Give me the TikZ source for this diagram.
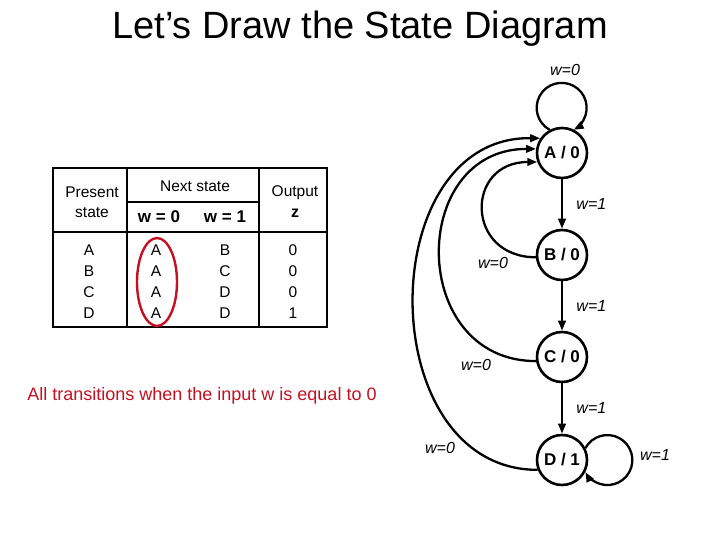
\documentclass[tikz,border=0pt]{standalone}
\usepackage{fontspec}
\setmainfont{Liberation Sans}
\usetikzlibrary{arrows.meta}
\definecolor{markred}{HTML}{C41020}

\begin{document}
\begin{tikzpicture}[x=1pt,y=1pt,>={Triangle[length=10pt,width=7.5pt]},
  stnode/.style={circle,draw,line width=2.6pt,minimum size=50pt,inner sep=0pt,
    font=\fontsize{17}{20}\selectfont\bfseries},
  lbl/.style={font=\fontsize{16}{19}\selectfont\itshape},
  cell/.style={font=\fontsize{15.5}{20}\selectfont,align=center},
  trans/.style={->,line width=2.3pt}]
  \useasboundingbox (0,0) rectangle (720,540);
  \node[font=\fontsize{38}{43}\selectfont] (title) at (360,511) {Let's Draw the State Diagram};

  % table
  \draw[line width=1.6pt] (53,372) -- (327,372);
  \draw[line width=2.8pt] (53,373) -- (53,213) -- (327,213) -- (327,373);
  \draw[line width=2.8pt] (53,308) -- (327,308);
  \draw[line width=1.2pt] (127,372) -- (127,213) (259,372) -- (259,213) (127,338) -- (259,338);
  \node[cell] (hpres) at (92,338) {Present\\state};
  \node[cell] (hnext) at (195,354) {Next state};
  \node[cell,font=\fontsize{17}{20}\selectfont\bfseries] (hw0) at (159,323) {w = 0};
  \node[cell,font=\fontsize{17}{20}\selectfont\bfseries] (hw1) at (225,323) {w = 1};
  \node[cell] (hout) at (295,347) {Output};
  \node[cell,font=\fontsize{16}{20}\selectfont\bfseries] (hz) at (295,327) {z};
  \foreach \p/\n/\m/\z [count=\i] in {A/A/B/0,B/A/C/0,C/A/D/0,D/A/D/1} {
    \node[cell] (p\i) at (89,311-21*\i) {\p};
    \node[cell] (n\i) at (156,311-21*\i) {\n};
    \node[cell] (m\i) at (225,311-21*\i) {\m};
    \node[cell] (z\i) at (293,311-21*\i) {\z};
  }
  \draw[markred,line width=2.4pt] (157,258) ellipse[x radius=20,y radius=44];
  \node[font=\fontsize{18}{21}\selectfont,text=markred] (note) at (202,144)
    {All transitions when the input w is equal to 0};

  % state diagram
  \node[stnode] (A) at (562,387) {A / 0};
  \node[stnode] (B) at (562,285) {B / 0};
  \node[stnode] (C) at (562,183) {C / 0};
  \node[stnode] (D) at (562,80) {D / 1};

  \draw[trans] (A.118) arc[start angle=241.3,end angle=-61.3,radius=25];
  \node[lbl] (la) at (565,470) {w=0};
  \draw[trans] (A) -- node[lbl,right=10pt] (lab) {w=1} (B);
  \draw[trans] (B) -- node[lbl,right=10pt] (lbc) {w=1} (C);
  \draw[trans] (C) -- node[lbl,right=10pt] (lcd) {w=1} (D);
  \draw[trans] (D.27) arc[start angle=151.3,end angle=-151.3,radius=25];
  \node[lbl] (ld) at (655,85) {w=1};

  \draw[trans] (B.185) .. controls (465,283) and (465,378) .. (A.200);
  \node[lbl] (lba) at (493,277) {w=0};
  \draw[trans] (C.189) .. controls (408,179) and (408,391) .. (A.171);
  \node[lbl] (lca) at (476,175) {w=0};
  \draw[trans] (D.202) .. controls (372,70) and (372,404) .. (A.146);
  \node[lbl] (lda) at (440,92) {w=0};
\end{tikzpicture}
\end{document}
